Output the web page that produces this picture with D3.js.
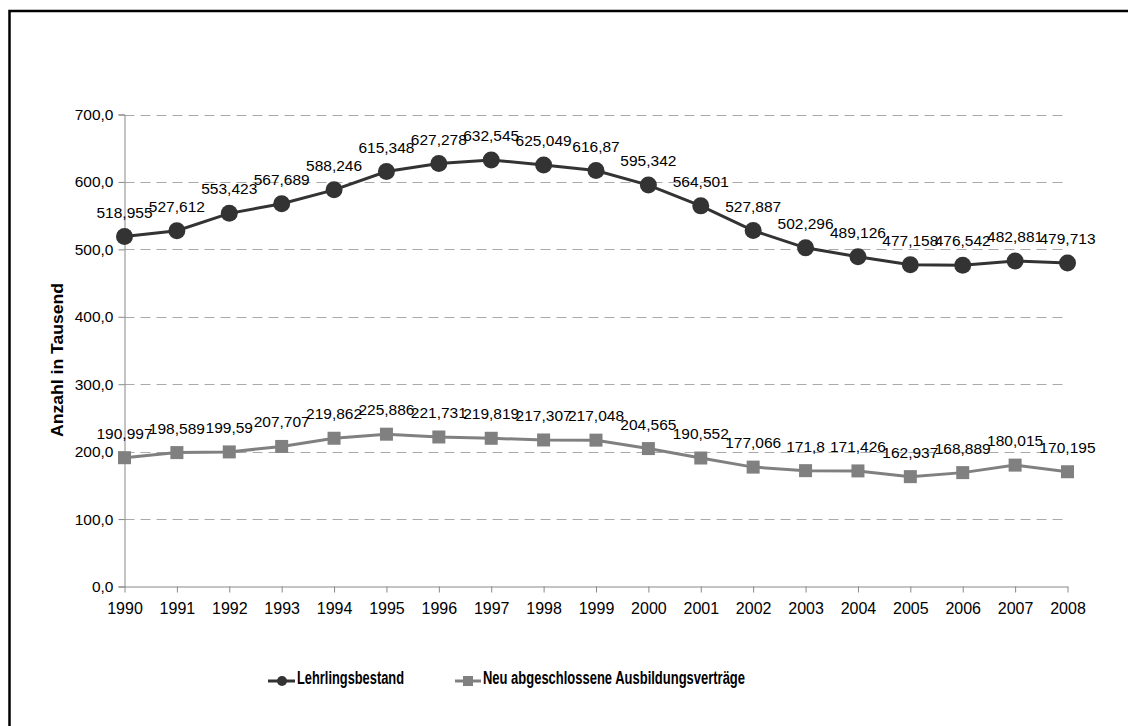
<!DOCTYPE html>
<html>
<head>
<meta charset="utf-8">
<script src="https://cdn.jsdelivr.net/npm/d3@7"></script>
<style>
  body { margin: 0; background: #fff; }
  text { font-family: Arial, "Liberation Sans", sans-serif; }
</style>
</head>
<body>
<div id="chart"></div>
<script>
// Data
var years = ["1990","1991","1992","1993","1994","1995","1996","1997","1998","1999",
             "2000","2001","2002","2003","2004","2005","2006","2007","2008"];
var lehrlingsbestand = [518.955, 527.612, 553.423, 567.689, 588.246, 615.348, 627.278, 632.545,
                        625.049, 616.87, 595.342, 564.501, 527.887, 502.296, 489.126, 477.158,
                        476.542, 482.881, 479.713];
var neuVertraege = [190.997, 198.589, 199.59, 207.707, 219.862, 225.886, 221.731, 219.819,
                    217.307, 217.048, 204.565, 190.552, 177.066, 171.8, 171.426, 162.937,
                    168.889, 180.015, 170.195];
var yTicks = [0, 100, 200, 300, 400, 500, 600, 700];
var seriesNames = ["Lehrlingsbestand", "Neu abgeschlossene Ausbildungsverträge"];

var width = 1128, height = 726;

var svg = d3.select("#chart")
  .append("svg")
  .attr("width", width)
  .attr("height", height);

// outer frame (right/bottom edges fall outside the picture)
svg.append("rect")
  .attr("x", 9.5).attr("y", 11)
  .attr("width", 1140).attr("height", 740)
  .attr("fill", "none")
  .attr("stroke", "#000")
  .attr("stroke-width", 2.5);

var x = d3.scalePoint()
  .domain(years)
  .range([124.5, 1067.5]);

var y = d3.scaleLinear()
  .domain([0, 700])
  .range([586.5, 114.5]);

// gridlines
svg.append("g")
  .selectAll("line")
  .data(yTicks.filter(function(d) { return d > 0; }))
  .enter()
  .append("line")
    .attr("x1", 124.5).attr("x2", 1067.5)
    .attr("y1", function(d) { return Math.round(y(d)) + 0.5; })
    .attr("y2", function(d) { return Math.round(y(d)) + 0.5; })
    .attr("stroke", "#aaa")
    .attr("stroke-width", 1)
    .attr("stroke-dasharray", "10,6");

// Y axis
var yAxis = svg.append("g")
  .attr("transform", "translate(124.5,0)")
  .call(d3.axisLeft(y).tickValues(yTicks).tickSize(6).tickPadding(5)
    .tickFormat(function(d) { return d3.format(".1f")(d).replace(".", ","); }));
yAxis.select(".domain").attr("stroke", "#888");
yAxis.selectAll(".tick line").attr("stroke", "#888");
yAxis.selectAll(".tick text")
  .style("font-size", "15.5px")
  .style("font-family", "Arial, 'Liberation Sans', sans-serif")
  .attr("fill", "#000");

// X axis
var xAxis = svg.append("g")
  .attr("transform", "translate(0,586.5)")
  .call(d3.axisBottom(x).tickSize(6).tickPadding(10).tickSizeOuter(0));
xAxis.select(".domain").attr("stroke", "#888");
xAxis.selectAll(".tick line").attr("stroke", "#888");
xAxis.selectAll(".tick text")
  .style("font-size", "16px")
  .style("font-family", "Arial, 'Liberation Sans', sans-serif")
  .attr("fill", "#000");

// Y axis title
svg.append("text")
  .attr("transform", "translate(63,360) rotate(-90)")
  .attr("text-anchor", "middle")
  .style("font-size", "17px")
  .style("font-weight", "bold")
  .attr("textLength", 154).attr("lengthAdjust", "spacingAndGlyphs")
  .text("Anzahl in Tausend");

var line = d3.line()
  .x(function(d, i) { return x(years[i]); })
  .y(function(d) { return y(d); });

var fmt = function(v) { return String(v).replace(".", ","); };

// series 2 (gray squares)
svg.append("path")
  .datum(neuVertraege)
  .attr("d", line)
  .attr("fill", "none")
  .attr("stroke", "#808080")
  .attr("stroke-width", 3);
svg.append("g")
  .selectAll("rect")
  .data(neuVertraege)
  .enter()
  .append("rect")
    .attr("x", function(d, i) { return x(years[i]) - 6.5; })
    .attr("y", function(d) { return y(d) - 6.5; })
    .attr("width", 13).attr("height", 13)
    .attr("fill", "#808080");

// series 1 (dark circles)
svg.append("path")
  .datum(lehrlingsbestand)
  .attr("d", line)
  .attr("fill", "none")
  .attr("stroke", "#333")
  .attr("stroke-width", 3);
svg.append("g")
  .selectAll("circle")
  .data(lehrlingsbestand)
  .enter()
  .append("circle")
    .attr("cx", function(d, i) { return x(years[i]); })
    .attr("cy", function(d) { return y(d); })
    .attr("r", 8.5)
    .attr("fill", "#333");

// value labels
[lehrlingsbestand, neuVertraege].forEach(function(series) {
  svg.append("g")
    .selectAll("text")
    .data(series)
    .enter()
    .append("text")
      .attr("x", function(d, i) { return x(years[i]); })
      .attr("y", function(d) { return y(d) - 19; })
      .attr("text-anchor", "middle")
      .style("font-size", "15.5px")
      .attr("fill", "#000")
      .text(fmt);
});

// legend
var leg1 = svg.append("g");
leg1.append("line").attr("x1", 268).attr("x2", 295).attr("y1", 681).attr("y2", 681)
  .attr("stroke", "#333").attr("stroke-width", 3);
leg1.append("circle").attr("cx", 282).attr("cy", 681).attr("r", 5).attr("fill", "#333");
leg1.append("text").attr("x", 297).attr("y", 684)
  .style("font-size", "18px").style("font-weight", "bold")
  .attr("textLength", 107).attr("lengthAdjust", "spacingAndGlyphs")
  .text(seriesNames[0]);

var leg2 = svg.append("g");
leg2.append("line").attr("x1", 455).attr("x2", 481).attr("y1", 681).attr("y2", 681)
  .attr("stroke", "#808080").attr("stroke-width", 3);
leg2.append("rect").attr("x", 463).attr("y", 676).attr("width", 10).attr("height", 10)
  .attr("fill", "#808080");
leg2.append("text").attr("x", 483).attr("y", 684)
  .style("font-size", "18px").style("font-weight", "bold")
  .attr("textLength", 262).attr("lengthAdjust", "spacingAndGlyphs")
  .text(seriesNames[1]);
</script>
</body>
</html>
